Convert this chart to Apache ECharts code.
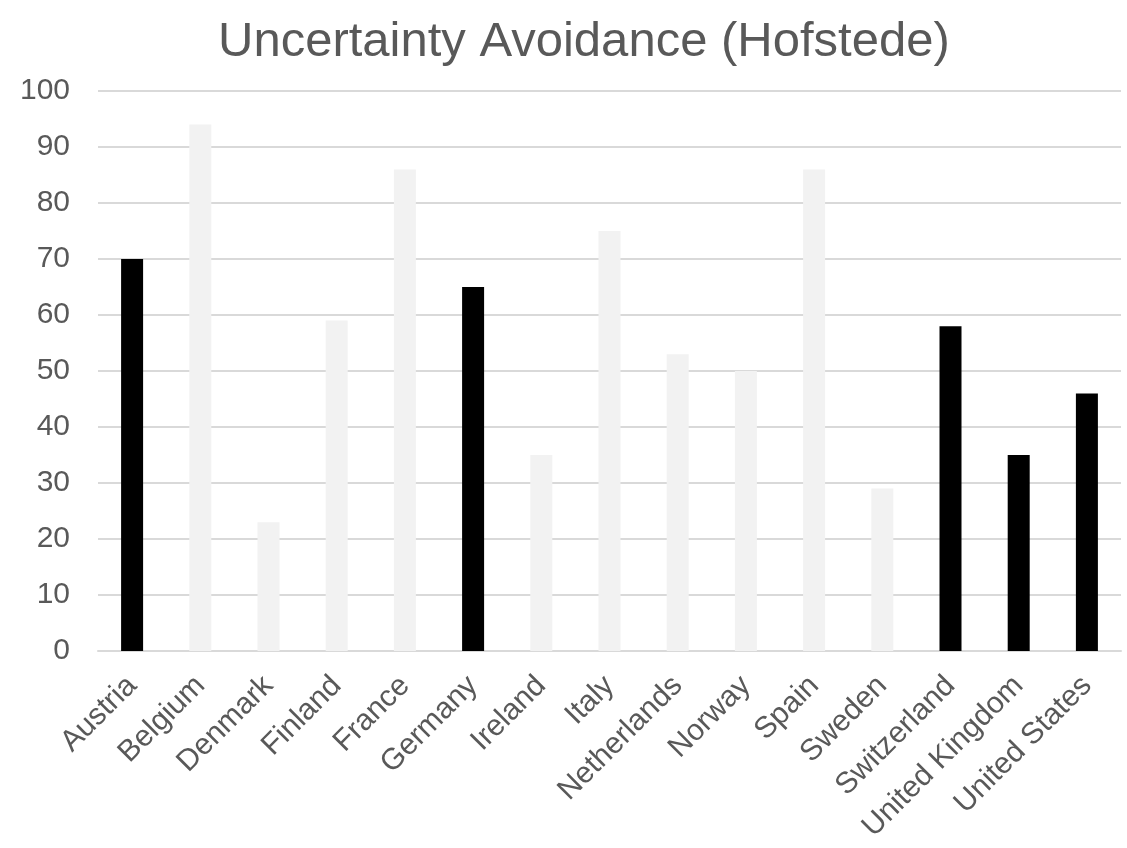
<!DOCTYPE html>
<html><head><meta charset="utf-8">
<script src="https://cdn.jsdelivr.net/npm/echarts@6/dist/echarts.min.js"></script>
<style>html,body{margin:0;padding:0;background:#fff}#c{width:1127px;height:848px}</style>
</head><body><div id="c"></div>
<script>
const titleText = 'Uncertainty Avoidance (Hofstede)';
const categories = ['Austria','Belgium','Denmark','Finland','France','Germany','Ireland','Italy','Netherlands','Norway','Spain','Sweden','Switzerland','United Kingdom','United States'];
const values = [70,94,23,59,86,65,35,75,53,50,86,29,58,35,46];
const highlighted = ['Austria','Germany','Switzerland','United Kingdom','United States'];
const yTicks = [0,10,20,30,40,50,60,70,80,90,100];

const chart = echarts.init(document.getElementById('c'), null, {renderer:'canvas'});
chart.setOption({
  animation:false,
  backgroundColor:'#ffffff',
  title:{text:titleText,left:213,top:13,textStyle:{fontFamily:'Liberation Sans, Arial, sans-serif',fontSize:49,fontWeight:'normal',color:'#595959'}},
  grid:{left:98,right:6,top:91,bottom:197,containLabel:false},
  xAxis:{type:'category',data:categories,
    axisLine:{lineStyle:{color:'#d9d9d9',width:2}},axisTick:{show:false},
    axisLabel:{rotate:45,interval:0,margin:30,color:'#595959',fontSize:30,fontFamily:'Liberation Sans, Arial, sans-serif'}},
  yAxis:{type:'value',min:yTicks[0],max:yTicks[yTicks.length-1],interval:10,
    axisLine:{show:false},axisTick:{show:false},
    splitLine:{lineStyle:{color:'#d9d9d9',width:2}},
    axisLabel:{margin:28,color:'#595959',fontSize:30,fontFamily:'Liberation Sans, Arial, sans-serif',padding:[6,0,0,0]}},
  series:[{type:'bar',barWidth:22,
    data:values.map((v,i)=>({value:v,itemStyle:{color:highlighted.includes(categories[i])?'#000000':'#f2f2f2'}}))}]
});
</script></body></html>
